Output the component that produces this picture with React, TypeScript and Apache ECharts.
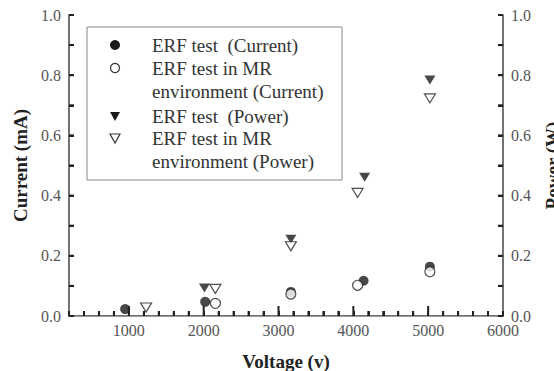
import React, { useEffect, useRef } from "react";
import * as echarts from "echarts";

const xMajorTicks = [1000, 2000, 3000, 4000, 5000];
const xMinorTicks = [400, 600, 800, 1200, 1400, 1600, 1800, 2200, 2400, 2600, 2800, 3200, 3400, 3600, 3800, 4200, 4400, 4600, 4800, 5200, 5400, 5600, 5800];
const yTickValues = [0.1, 0.2, 0.3, 0.4, 0.5, 0.6, 0.7, 0.8, 0.9];
const xLabelStep = 1000;
const yLabelStep = 0.2;

const erfCurrent = [[950, 0.023], [2020, 0.047], [3165, 0.08], [4137, 0.117], [5023, 0.164]];
const mrCurrent = [[2156, 0.042], [3165, 0.073], [4057, 0.102], [5023, 0.147]];
const erfPower = [[2010, 0.093], [3165, 0.255], [4151, 0.461], [5023, 0.784]];
const mrPower = [[1230, 0.028], [2156, 0.09], [3165, 0.232], [4057, 0.409], [5023, 0.723]];

const legendLines = [
  "ERF test  (Current)",
  "ERF test in MR",
  "environment (Current)",
  "ERF test  (Power)",
  "ERF test in MR",
  "environment (Power)",
];

const FONT = "Liberation Serif";

export default function App() {
  const ref = useRef<HTMLDivElement>(null);
  useEffect(() => {
    document.body.style.margin = "0";
    const chart = echarts.init(ref.current!, null, { renderer: "svg" });
    const mkLine = () => ({ show: true, lineStyle: { color: "#444", width: 1.5 } });
    const mkTick = (len: number) => ({ show: true, inside: true, length: len, lineStyle: { color: "#222", width: 2 } });
    const mkLabel = (margin: number, formatter: (v: number) => string) => ({
      show: true,
      color: "#555",
      fontSize: 16,
      fontFamily: FONT,
      margin,
      formatter,
    });
    const mkName = () => ({ color: "#222", fontSize: 19, fontWeight: "bold", fontFamily: FONT });
    const yFmt = (v: number) => (Math.abs(v / yLabelStep - Math.round(v / yLabelStep)) < 1e-6 ? v.toFixed(1) : "");
    const yAxisBase = (pos: string, name: string, gap: number) => ({
      type: "value",
      position: pos,
      min: 0,
      max: 1,
      interval: 0.1,
      name,
      nameLocation: "middle",
      nameRotate: 90,
      nameGap: gap,
      nameTextStyle: mkName(),
      axisLine: mkLine(),
      axisTick: mkTick(5),
      axisLabel: mkLabel(8, yFmt),
      splitLine: { show: false },
    });
    const tickSeries = (name: string, data: number[][], draw: (p: number[]) => any) => ({
      name,
      type: "custom",
      yAxisIndex: 0,
      silent: true,
      clip: false,
      z: 4,
      data,
      renderItem: (params: any, api: any) => {
        const p = api.coord([api.value(0), api.value(1)]);
        return { type: "rect", shape: draw(p), style: { fill: "#222" } };
      },
    });
    const rowY = [45, 68, 91, 116, 138, 161];
    const symX = 115;
    const textX = 152;
    const tri = (cx: number, cy: number) => [[cx - 5, cy - 4], [cx + 5, cy - 4], [cx, cy + 5]];
    chart.setOption({
      animation: false,
      grid: { left: 69, right: 51, top: 15, bottom: 55, show: false, containLabel: false, outerBoundsMode: "none" },
      xAxis: [
        {
          type: "value",
          min: 200,
          max: 6000,
          interval: 200,
          name: "Voltage (v)",
          nameLocation: "middle",
          nameGap: 36,
          nameTextStyle: mkName(),
          axisLine: mkLine(),
          axisTick: mkTick(5),
          axisLabel: mkLabel(6, (v: number) => (v % xLabelStep === 0 ? String(v) : "")),
          splitLine: { show: false },
        },
        {
          type: "value",
          position: "top",
          min: 200,
          max: 6000,
          axisLine: { show: true, lineStyle: { color: "#999", width: 1 } },
          axisTick: { show: false },
          axisLabel: { show: false },
          splitLine: { show: false },
        },
      ],
      yAxis: [yAxisBase("left", "Current (mA)", 26), yAxisBase("right", "Power (W)", 40)],
      series: [
        tickSeries("x minor ticks", xMinorTicks.map((v) => [v, 0]), (p) => ({ x: p[0] - 1, y: p[1] - 5, width: 2, height: 5 })),
        tickSeries("x major ticks", xMajorTicks.map((v) => [v, 0]), (p) => ({ x: p[0] - 1, y: p[1] - 10, width: 2, height: 10 })),
        tickSeries("left ticks", yTickValues.map((v) => [200, v]), (p) => ({ x: p[0], y: p[1] - 1, width: 5, height: 2 })),
        tickSeries("right ticks", yTickValues.map((v) => [6000, v]), (p) => ({ x: p[0] - 5, y: p[1] - 1, width: 5, height: 2 })),
        { name: "ERF test (Current)", type: "scatter", yAxisIndex: 0, data: erfCurrent, symbol: "circle", symbolSize: 10, itemStyle: { color: "#1a1a1a" }, z: 3 },
        { name: "ERF test in MR environment (Current)", type: "scatter", yAxisIndex: 0, data: mrCurrent, symbol: "circle", symbolSize: 10, itemStyle: { color: "#fff", borderColor: "#222", borderWidth: 1.2 }, z: 3 },
        { name: "ERF test (Power)", type: "scatter", yAxisIndex: 1, data: erfPower, symbol: "triangle", symbolRotate: 180, symbolSize: [11, 9], itemStyle: { color: "#1a1a1a" }, z: 3 },
        { name: "ERF test in MR environment (Power)", type: "scatter", yAxisIndex: 1, data: mrPower, symbol: "triangle", symbolRotate: 180, symbolSize: [11, 9], itemStyle: { color: "#fff", borderColor: "#222", borderWidth: 1.2 }, z: 3 },
      ],
      graphic: [
        { type: "rect", shape: { x: 87, y: 27, width: 255, height: 153 }, style: { fill: "rgba(0,0,0,0)", stroke: "#888", lineWidth: 1 } },
        { type: "circle", shape: { cx: symX, cy: rowY[0], r: 5 }, style: { fill: "#1a1a1a" } },
        { type: "circle", shape: { cx: symX, cy: rowY[1], r: 4.5 }, style: { fill: "#fff", stroke: "#333", lineWidth: 1.2 } },
        { type: "polygon", shape: { points: tri(symX, rowY[3]) }, style: { fill: "#1a1a1a" } },
        { type: "polygon", shape: { points: tri(symX, rowY[4]) }, style: { fill: "#fff", stroke: "#333", lineWidth: 1.2 } },
        ...legendLines.map((t, i) => ({
          type: "text",
          x: textX,
          y: rowY[i],
          style: { text: t, fill: "#333", font: `19px Liberation Serif`, verticalAlign: "middle" },
        })),
      ],
    });
    return () => chart.dispose();
  }, []);
  return <div ref={ref} style={{ width: 554, height: 371 }} />;
}
